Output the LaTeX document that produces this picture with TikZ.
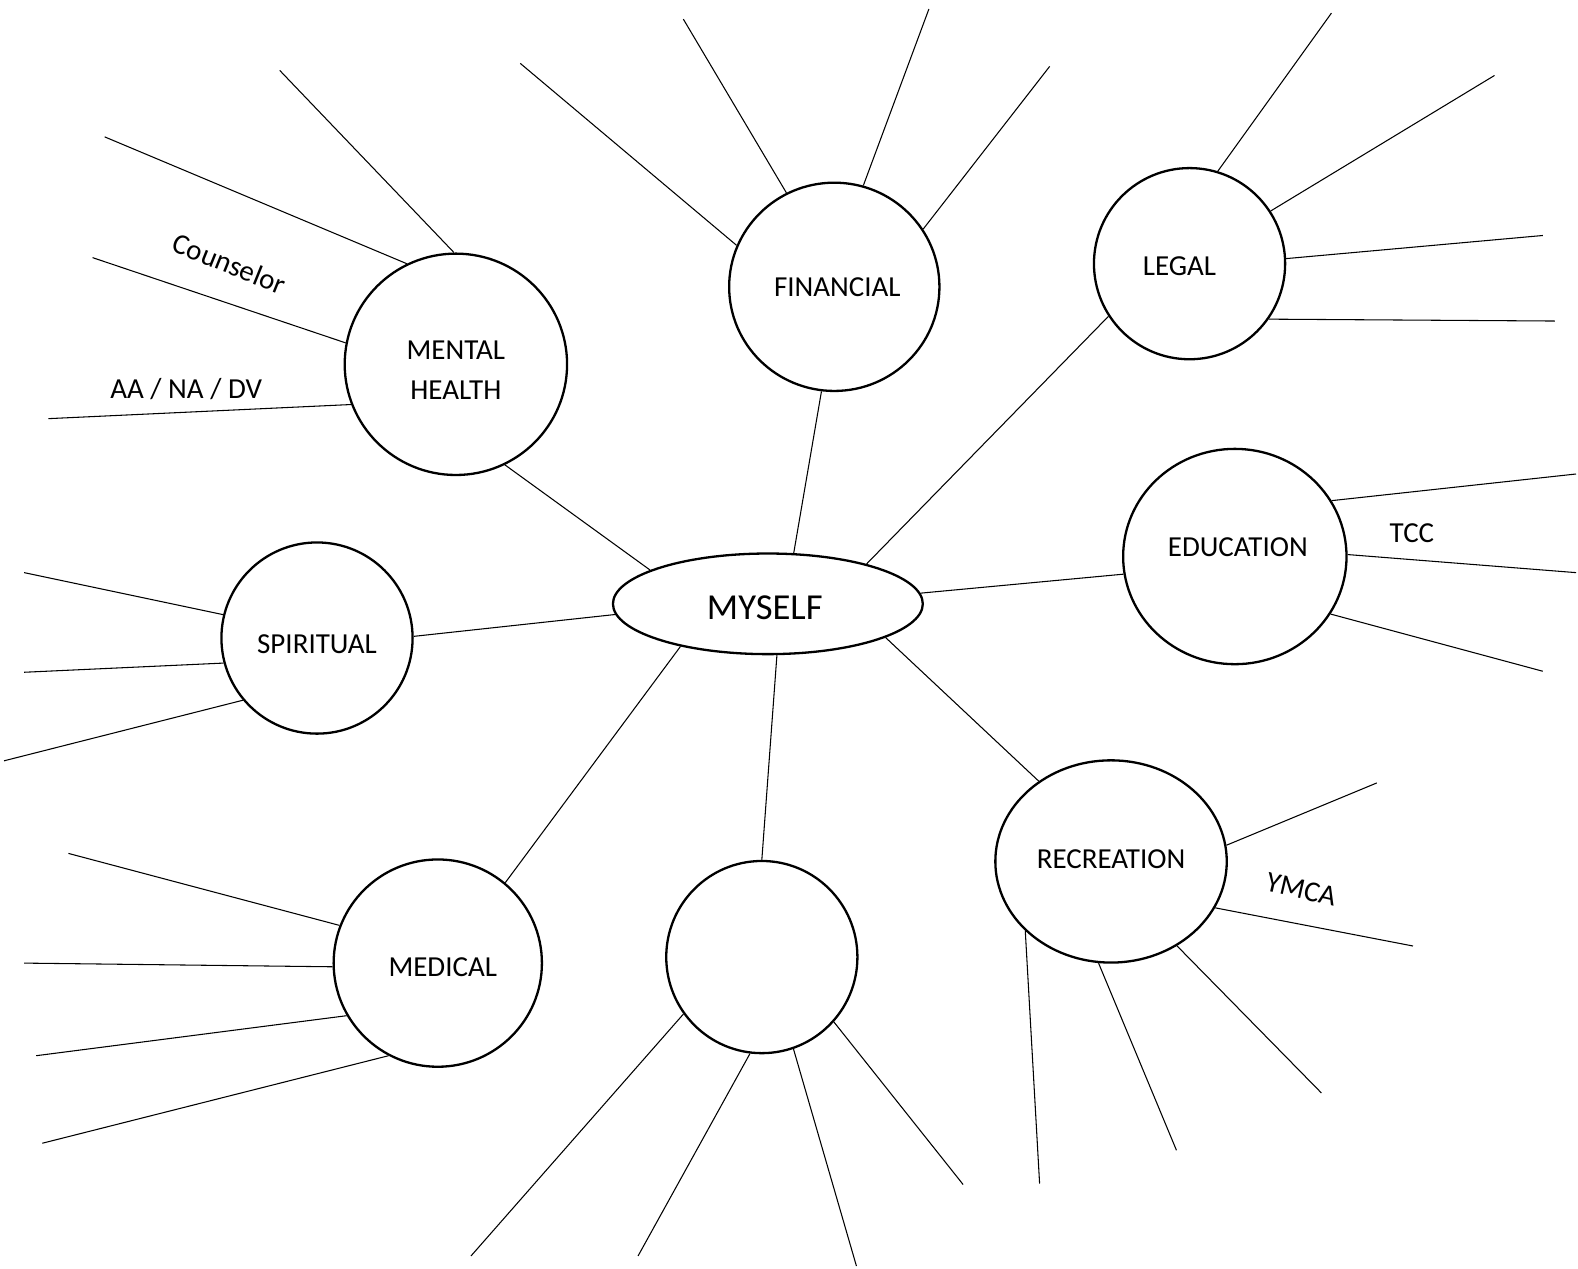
\documentclass[tikz,border=0pt]{standalone}
\usepackage{fontspec}
\setmainfont{Carlito}
\usetikzlibrary{shapes.geometric}
\begin{document}
\begin{tikzpicture}[x=0.02cm, y=-0.02cm,
    area/.style={ellipse, draw, line width=1.3pt, inner sep=0pt},
    every label/.append style={align=center, font=\fontsize{16.4}{22.7}\selectfont},
    ray/.style={line width=0.6pt},
    note/.style={font=\fontsize{16.4}{20}\selectfont}]
  \useasboundingbox (0,0) rectangle (1568,1260);
  % Centro
  \node[area, minimum width=6.16cm, minimum height=2cm,
    label={[shift={(-0.06cm,-0.08cm)}, font=\fontsize{20.7}{24}\selectfont]center:MYSELF}] (myself) at (763,600) {};
  % Aree
  \node[area, minimum width=4.42cm, minimum height=4.4cm,
    label={[yshift=-0.12cm]center:MENTAL\\HEALTH}] (mental) at (453,362) {};
  \node[area, minimum width=4.18cm, minimum height=4.14cm,
    label={[xshift=0.06cm]center:FINANCIAL}] (financial) at (829,285) {};
  \node[area, minimum width=3.8cm, minimum height=3.8cm,
    label={[shift={(-0.2cm,-0.05cm)}]center:LEGAL}] (legal) at (1182,262) {};
  \node[area, minimum width=3.8cm, minimum height=3.8cm,
    label={[yshift=-0.12cm]center:SPIRITUAL}] (spiritual) at (315,634) {};
  \node[area, minimum width=4.44cm, minimum height=4.28cm,
    label={[shift={(0.06cm,0.18cm)}]center:EDUCATION}] (education) at (1227,553) {};
  \node[area, minimum width=4.6cm, minimum height=4.02cm,
    label={[yshift=0.04cm]center:RECREATION}] (recreation) at (1104,856) {};
  \node[area, minimum width=4.14cm, minimum height=4.12cm,
    label={[shift={(0.1cm,-0.08cm)}]center:MEDICAL}] (medical) at (435,957) {};
  \node[area, minimum width=3.8cm, minimum height=3.82cm] (blank) at (757,951) {};
  % Collegamenti
  \draw[ray] (myself.164) -- (mental.-64);
  \draw[ray] (myself.63) -- (financial.-97);
  \draw[ray] (myself.22) -- (legal.-147);
  \draw[ray] (myself.4) -- (education.-171);
  \draw[ray] (myself.-16) -- (recreation.132);
  \draw[ray] (myself.-80) -- (blank.90);
  \draw[ray] (myself.-154) -- (medical.50);
  \draw[ray] (myself.-176) -- (spiritual.1);
  % Raggi
  \foreach \a/\x/\y [count=\i] in {91/278/70, 116/104/136, 169/92/256, 201/48/416} {
    \coordinate (mh\i) at (\x,\y);
    \draw[ray] (mental.\a) -- (mh\i);
  }
  \foreach \a/\x/\y [count=\i] in {157/517/63, 117/679/19, 74/923/9, 33/1043/66} {
    \coordinate (fi\i) at (\x,\y);
    \draw[ray] (financial.\a) -- (fi\i);
  }
  \foreach \a/\x/\y [count=\i] in {73/1323/13, 33/1485/75, 3/1533/234, -35/1545/319} {
    \coordinate (le\i) at (\x,\y);
    \draw[ray] (legal.\a) -- (le\i);
  }
  \foreach \a/\x/\y [count=\i] in {30/1566/471, 1/1566/569, -31/1533/667} {
    \coordinate (ed\i) at (\x,\y);
    \draw[ray] (education.\a) -- (ed\i);
  }
  \foreach \a/\x/\y [count=\i] in {8/1368/778, -24/1404/940, -52/1313/1086, -97/1169/1143, -141/1033/1176} {
    \coordinate (re\i) at (\x,\y);
    \draw[ray] (recreation.\a) -- (re\i);
  }
  \foreach \a/\x/\y [count=\i] in {-144/468/1248, -97/634/1248, -71/851/1258, -42/957/1177} {
    \coordinate (bl\i) at (\x,\y);
    \draw[ray] (blank.\a) -- (bl\i);
  }
  \foreach \a/\x/\y [count=\i] in {159/68/848, 182/24/957, 210/36/1049, 242/42/1136} {
    \coordinate (me\i) at (\x,\y);
    \draw[ray] (medical.\a) -- (me\i);
  }
  \foreach \a/\x/\y [count=\i] in {166/24/569, 195/24/668, 220/4/756} {
    \coordinate (sp\i) at (\x,\y);
    \draw[ray] (spiritual.\a) -- (sp\i);
  }
  % Etichette
  \node[note, rotate=-22] (counselor) at (228,262) {Counselor};
  \node[note] (aa) at (185,387) {AA / NA / DV};
  \node[note] (tcc) at (1403,530) {TCC};
  \node[note, rotate=-13] (ymca) at (1293,884) {YMCA};
\end{tikzpicture}
\end{document}
